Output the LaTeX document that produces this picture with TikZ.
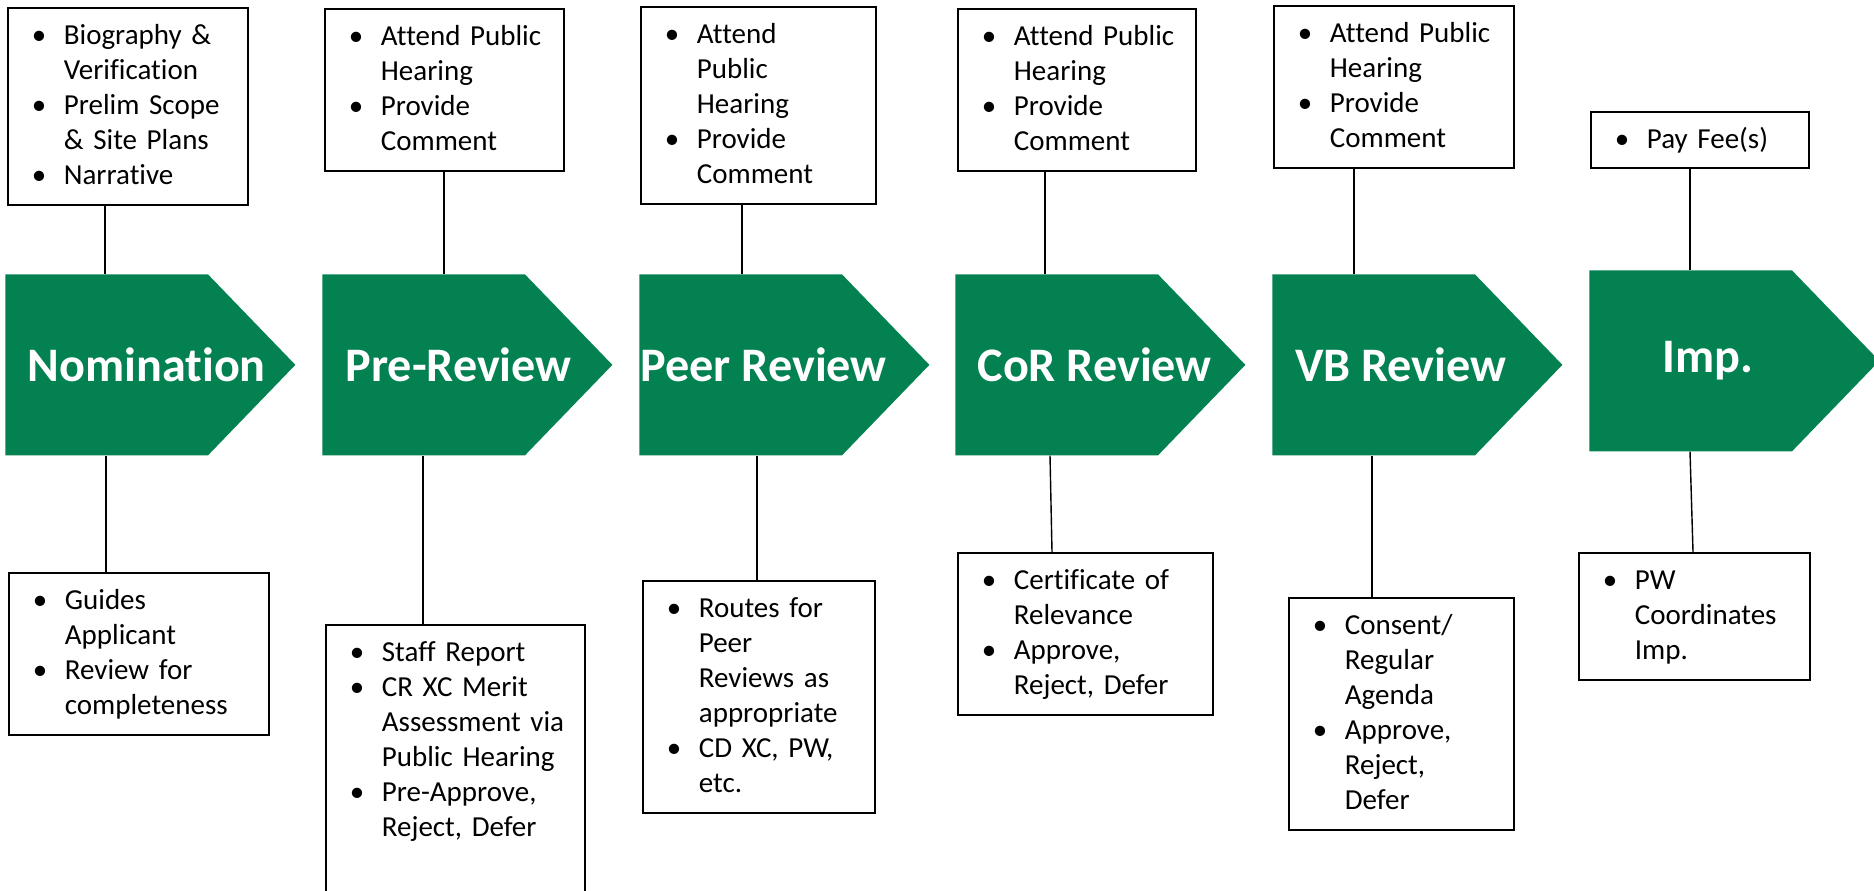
\documentclass[tikz,border=0pt]{standalone}
\usepackage{fontspec}
\setmainfont{Carlito}[Ligatures=CommonOff]
\usetikzlibrary{shapes.symbols}
\definecolor{stagegreen}{RGB}{3,129,81}
\newcommand{\bitem}[1]{\makebox[0.64cm][l]{\textbullet}\mbox{#1}}
\newcommand{\bcont}[1]{\hspace*{0.64cm}\mbox{#1}}
% stage title, centred #1 to the right of the body centre
\newcommand{\stagename}[2]{\makebox[0pt][l]{\hspace{#1}\makebox[0pt]{#2}}}

\begin{document}
\begin{tikzpicture}
    \tikzstyle{stage} = [signal, signal to=east, signal pointer angle=92,
        fill=stagegreen, text=white, minimum width=5.8cm, minimum height=3.62cm,
        inner sep=0pt, font=\fontsize{27.4}{31}\selectfont\bfseries]
    \tikzstyle{note} = [rectangle, draw=black, line width=1pt, align=left,
        inner xsep=0.48cm, inner ysep=0.32cm, text height=0.42cm,
        font=\fontsize{16.5}{19.9}\selectfont]
    \tikzstyle{link} = [line width=0.8pt]

    \useasboundingbox (0,0) rectangle (37.48,-17.8);

    % stages
    \node(nom) [stage] at (0.1,-5.48) [anchor=north west]
        {\stagename{0.8cm}{Nomination}};
    \node(prerev) [stage] at (6.44,-5.48) [anchor=north west]
        {\stagename{0.7cm}{Pre-Review}};
    \node(peerrev) [stage] at (12.78,-5.48) [anchor=north west]
        {\stagename{0.46cm}{Peer Review}};
    \node(correv) [stage] at (19.1,-5.48) [anchor=north west]
        {\stagename{0.76cm}{CoR Review}};
    \node(vbrev) [stage] at (25.44,-5.48) [anchor=north west]
        {\stagename{0.54cm}{VB Review}};
    \node(imp) [stage] at (31.78,-5.4) [anchor=north west]
        {\stagename{0.34cm}{Imp.}};

    % upper notes
    \node(nomtop) [note, text width=3.84cm, text depth=2.88cm]
        at (0.14,-0.14) [anchor=north west]
        {\bitem{Biography \&}\\ \bcont{Verification}\\ \bitem{Prelim Scope}\\
         \bcont{\& Site Plans}\\ \bitem{Narrative}};

    \node(pretop) [note, text width=3.82cm, text depth=2.18cm]
        at (6.48,-0.16) [anchor=north west]
        {\bitem{Attend Public}\\ \bcont{Hearing}\\ \bitem{Provide}\\ \bcont{Comment}};

    \node(peertop) [note, text width=3.74cm, text depth=2.88cm]
        at (12.8,-0.12) [anchor=north west]
        {\bitem{Attend}\\ \bcont{Public}\\ \bcont{Hearing}\\ \bitem{Provide}\\
         \bcont{Comment}};

    \node(cortop) [note, text width=3.8cm, text depth=2.18cm]
        at (19.14,-0.16) [anchor=north west]
        {\bitem{Attend Public}\\ \bcont{Hearing}\\ \bitem{Provide}\\ \bcont{Comment}};

    \node(vbtop) [note, text width=3.84cm, text depth=2.18cm]
        at (25.46,-0.1) [anchor=north west]
        {\bitem{Attend Public}\\ \bcont{Hearing}\\ \bitem{Provide}\\ \bcont{Comment}};

    \node(imptop) [note, text width=3.4cm, text depth=0.06cm]
        at (31.8,-2.22) [anchor=north west]
        {\bitem{Pay Fee(s)}};

    % lower notes
    \node(nombot) [note, text width=4.24cm, text depth=2.18cm]
        at (0.16,-11.44) [anchor=north west]
        {\bitem{Guides}\\ \bcont{Applicant}\\ \bitem{Review for}\\ \bcont{completeness}};

    \node(prebot) [note, text width=4.22cm, text depth=4.46cm]
        at (6.5,-12.48) [anchor=north west]
        {\bitem{Staff Report}\\ \bitem{CR XC Merit}\\ \bcont{Assessment via}\\
         \bcont{Public Hearing}\\ \bitem{Pre-Approve,}\\ \bcont{Reject, Defer}};

    \node(peerbot) [note, text width=3.68cm, text depth=3.58cm]
        at (12.84,-11.6) [anchor=north west]
        {\bitem{Routes for}\\ \bcont{Peer}\\ \bcont{Reviews as}\\ \bcont{appropriate}\\
         \bitem{CD XC, PW,}\\ \bcont{etc.}};

    \node(corbot) [note, text width=4.14cm, text depth=2.18cm]
        at (19.14,-11.04) [anchor=north west]
        {\bitem{Certificate of}\\ \bcont{Relevance}\\ \bitem{Approve,}\\
         \bcont{Reject, Defer}};

    \node(vbbot) [note, text width=3.54cm, text depth=3.58cm]
        at (25.76,-11.94) [anchor=north west]
        {\bitem{Consent/}\\ \bcont{Regular}\\ \bcont{Agenda}\\ \bitem{Approve,}\\
         \bcont{Reject,}\\ \bcont{Defer}};

    \node(impbot) [note, text width=3.66cm, text depth=1.48cm]
        at (31.56,-11.04) [anchor=north west]
        {\bitem{PW}\\ \bcont{Coordinates}\\ \bcont{Imp.}};

    % links
    \draw[link] (nomtop.south -| 2.1,0) -- (nom.north -| 2.1,0);
    \draw[link] (pretop.south -| 8.88,0) -- (prerev.north -| 8.88,0);
    \draw[link] (peertop.south -| 14.84,0) -- (peerrev.north -| 14.84,0);
    \draw[link] (cortop.south -| 20.9,0) -- (correv.north -| 20.9,0);
    \draw[link] (vbtop.south -| 27.08,0) -- (vbrev.north -| 27.08,0);
    \draw[link] (imptop.south -| 33.8,0) -- (imp.north -| 33.8,0);

    \draw[link] (nom.south -| 2.12,0) -- (nombot.north -| 2.12,0);
    \draw[link] (prerev.south -| 8.46,0) -- (prebot.north -| 8.46,0);
    \draw[link] (peerrev.south -| 15.14,0) -- (peerbot.north -| 15.14,0);
    \draw[link] (correv.south -| 21,0) -- (corbot.north -| 21.04,0);
    \draw[link] (vbrev.south -| 27.44,0) -- (vbbot.north -| 27.44,0);
    \draw[link] (imp.south -| 33.8,0) -- (impbot.north -| 33.86,0);
\end{tikzpicture}
\end{document}
